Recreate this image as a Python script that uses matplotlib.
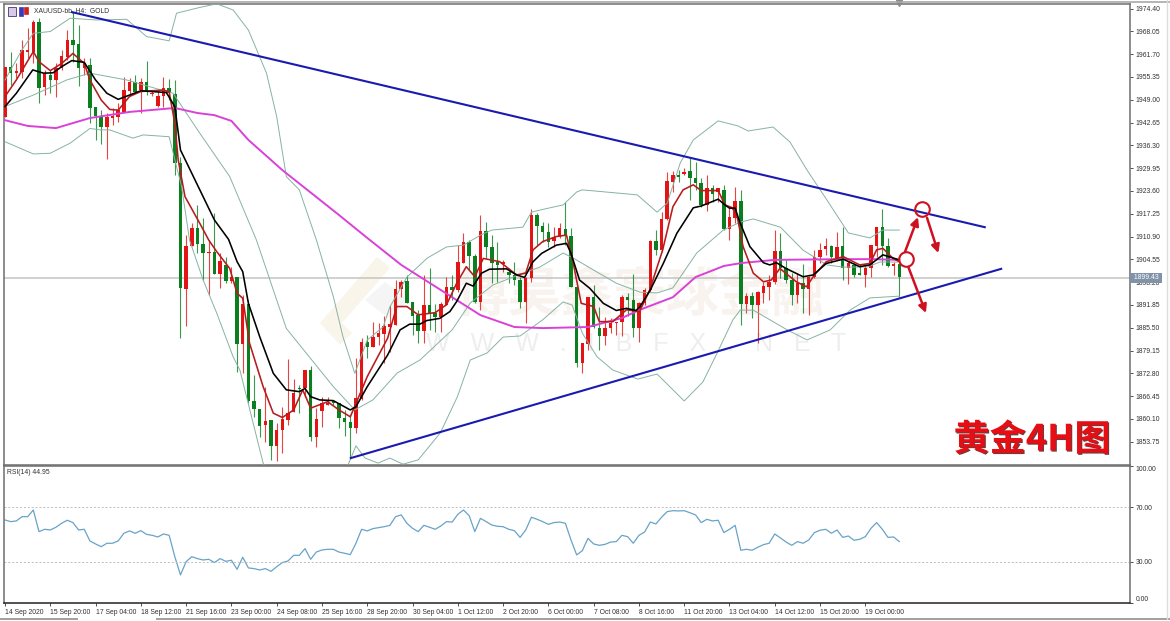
import matplotlib
matplotlib.use('Agg')
import matplotlib.pyplot as plt
import matplotlib.patheffects as pe
from matplotlib.lines import Line2D
from matplotlib.patches import Polygon, Rectangle

plt.rcParams['font.family'] = ['Liberation Sans', 'Noto Sans CJK SC', 'DejaVu Sans']

#candles, one row of values per 4h bar
opens = [1944.3,1958.2,1956.5,1956.8,1962.4,1962.4,1970.7,1952.5,1955.9,1954.5,
         1957.7,1961.0,1965.6,1964.5,1957.7,1958.7,1946.9,1944.5,1941.3,1943.8,
         1944.3,1945.7,1951.5,1954.0,1951.7,1954.0,1950.6,1947.3,1949.9,1952.2,
         1950.6,1931.3,1896.3,1908.3,1913.3,1908.8,1906.3,1906.6,1900.5,1903.0,
         1898.5,1899.6,1881.0,1892.1,1865.1,1862.9,1858.4,1859.8,1852.6,1857.0,
         1859.8,1862.0,1868.7,1868.7,1873.7,1855.1,1862.3,1864.0,1865.1,1864.5,
         1860.4,1859.2,1857.6,1865.6,1881.5,1880.1,1882.9,1883.8,1885.7,1886.2,
         1896.3,1898.5,1892.7,1889.0,1884.6,1891.8,1889.6,1888.5,1891.8,1896.8,
         1896.0,1903.5,1909.4,1905.5,1892.7,1912.4,1908.0,1903.8,1903.3,1901.0,
         1900.2,1898.8,1892.7,1899.4,1916.9,1913.8,1912.2,1909.7,1910.8,1913.0,
         1911.0,1896.8,1875.7,1881.0,1894.0,1885.4,1883.2,1885.4,1886.8,1887.1,
         1894.0,1893.2,1885.4,1892.4,1896.0,1909.7,1907.1,1915.8,1926.1,1928.0,
         1928.3,1929.2,1927.2,1925.8,1919.7,1924.4,1923.3,1923.9,1913.0,1916.1,
         1920.8,1892.1,1894.3,1891.8,1895.2,1896.8,1898.2,1906.9,1902.1,1898.8,
         1894.6,1897.9,1896.3,1899.6,1905.2,1907.4,1908.3,1904.9,1908.3,1902.1,
         1903.0,1900.8,1900.2,1902.1,1908.3,1913.5,1908.3,1902.7,1903.2]
highs = [1958.2,1962.4,1959.1,1965.6,1968.9,1971.2,1971.7,1957.3,1957.3,1959.1,
         1962.9,1968.4,1973.5,1969.8,1960.5,1960.5,1946.9,1946.1,1945.2,1946.6,
         1948.0,1955.4,1955.0,1955.9,1955.0,1959.8,1951.7,1951.7,1955.4,1954.7,
         1954.5,1933.1,1911.3,1914.7,1919.7,1916.1,1909.9,1917.4,1906.3,1905.2,
         1902.4,1899.6,1894.6,1893.2,1872.3,1862.9,1869.0,1859.8,1858.9,1863.4,
         1876.8,1871.2,1869.5,1873.7,1874.8,1863.1,1866.2,1866.2,1865.5,1864.5,
         1862.6,1861.2,1877.1,1882.6,1883.5,1887.1,1886.8,1888.8,1891.8,1898.8,
         1898.8,1900.2,1892.7,1890.4,1900.2,1902.1,1892.0,1892.7,1899.6,1900.2,
         1908.5,1911.9,1909.9,1906.0,1916.9,1915.0,1911.3,1909.4,1904.4,1902.1,
         1903.8,1899.6,1899.6,1918.6,1917.5,1915.0,1914.7,1913.5,1914.7,1920.5,
         1913.3,1896.8,1881.2,1894.0,1897.4,1891.3,1888.5,1888.2,1887.1,1894.6,
         1895.2,1900.5,1892.7,1896.6,1909.9,1912.7,1917.7,1928.9,1929.2,1929.4,
         1930.0,1932.8,1931.7,1927.2,1928.0,1925.2,1924.4,1925.2,1919.1,1924.7,
         1923.9,1895.2,1895.4,1895.7,1898.2,1900.2,1912.7,1911.9,1904.4,1900.7,
         1900.7,1903.2,1899.9,1907.1,1909.1,1910.5,1908.5,1912.2,1913.5,1904.1,
         1903.5,1903.2,1903.0,1908.5,1913.5,1918.6,1910.5,1903.8,1903.5]
lows = [1944.3,1953.1,1955.0,1955.0,1960.5,1959.1,1948.0,1950.3,1951.0,1949.7,
        1957.3,1960.1,1959.6,1952.7,1955.9,1942.4,1937.8,1936.7,1932.4,1942.0,
        1942.9,1945.7,1949.9,1950.8,1945.2,1950.3,1950.0,1947.1,1947.1,1948.9,
        1928.0,1882.6,1886.0,1908.3,1906.3,1898.8,1894.6,1900.5,1896.6,1897.9,
        1897.9,1873.2,1872.9,1864.5,1860.6,1855.1,1853.7,1848.7,1848.4,1850.6,
        1858.4,1862.0,1861.8,1866.2,1853.9,1852.3,1857.8,1864.0,1864.0,1857.6,
        1855.3,1849.0,1856.2,1865.4,1877.1,1880.1,1880.7,1875.7,1878.8,1886.2,
        1894.0,1892.4,1883.5,1881.2,1881.2,1884.9,1884.3,1884.3,1891.8,1893.2,
        1895.4,1903.5,1901.6,1892.4,1890.4,1904.9,1897.9,1898.2,1901.0,1897.9,
        1897.4,1891.0,1886.8,1898.2,1908.5,1909.4,1908.0,1908.0,1910.5,1908.5,
        1896.8,1874.6,1872.9,1879.3,1885.4,1879.3,1880.7,1884.0,1883.5,1883.2,
        1888.8,1882.9,1881.5,1891.8,1895.4,1905.8,1906.6,1915.5,1923.3,1926.1,
        1928.0,1921.1,1923.9,1919.1,1918.0,1920.5,1920.5,1912.7,1909.9,1914.7,
        1886.3,1889.6,1888.2,1881.2,1892.4,1893.2,1897.7,1899.4,1897.9,1891.8,
        1892.4,1889.6,1889.0,1899.4,1903.5,1905.8,1903.5,1904.4,1898.8,1897.7,
        1899.6,1900.2,1896.8,1899.6,1905.2,1903.0,1902.4,1900.2,1894.0]
closes = [1958.2,1956.5,1957.0,1962.9,1962.9,1970.7,1952.2,1956.2,1954.5,1957.7,
          1961.2,1965.6,1964.2,1957.7,1959.1,1946.6,1944.5,1941.3,1944.1,1944.5,
          1946.1,1951.7,1954.0,1951.2,1954.0,1951.5,1951.0,1950.0,1952.2,1950.8,
          1931.3,1896.6,1908.3,1913.3,1908.8,1906.3,1906.6,1900.5,1904.1,1898.5,
          1899.6,1881.0,1892.1,1865.1,1862.9,1858.1,1859.5,1852.6,1857.0,1860.1,
          1861.8,1867.3,1868.4,1873.7,1855.1,1860.1,1864.5,1864.5,1864.5,1860.4,
          1859.2,1857.6,1865.9,1881.5,1880.1,1882.9,1884.0,1886.0,1886.5,1896.3,
          1898.2,1892.4,1888.8,1884.6,1891.8,1889.6,1888.5,1892.1,1896.8,1896.0,
          1903.8,1909.4,1905.5,1892.7,1912.4,1908.0,1903.5,1903.0,1903.8,1900.2,
          1898.8,1892.7,1899.4,1916.9,1913.8,1912.2,1909.4,1910.8,1913.3,1911.0,
          1896.8,1875.7,1881.2,1894.0,1885.7,1883.2,1885.4,1886.8,1887.1,1894.0,
          1893.2,1885.4,1892.4,1896.0,1909.7,1907.1,1915.8,1926.4,1928.0,1927.5,
          1928.9,1927.2,1925.8,1919.7,1924.4,1922.7,1924.4,1913.0,1916.3,1920.8,
          1892.1,1894.3,1891.8,1895.4,1897.1,1898.2,1906.9,1902.1,1898.8,1894.6,
          1897.9,1896.3,1899.6,1905.2,1907.1,1908.3,1905.2,1908.0,1902.1,1903.5,
          1900.2,1900.2,1902.1,1908.5,1913.5,1908.3,1902.7,1903.2,1899.6]

#moving averages and bollinger bands, read at the bends only
black_idx = [0,2,4.9,6.8,8.5,10,11.8,14,16,18,20,22,24,28.5,30,31,33,37,39.5,41,42,43,45,47.4,49.7,52,53,54,55.6,58,61,62,64,67.6,
             69.8,71.5,73.3,74.5,76.8,78.6,79.8,81.5,82.7,84.2,85.6,88.6,90.4,91.8,93.3,94.8,97.4,99.2,100,101.5,103.3,105.7,108,109.8,111.5,
             112.2,114,116.3,118.7,121.6,123,126,127.2,128,129,129.8,131.6,134,135.1,136.3,138,141,142.8,145.1,148.1,151,152.8,155.1,158]
black_ma = [1947.1,1950.8,1957.3,1956.4,1956.5,1958.2,1959.9,1959.4,1954.5,1950.8,1949.1,1950.3,1951.5,1951.0,1947.1,1935.0,1928.5,1915.5,1910.1,1903.9,1901.1,1892.3,1883.0,1872.8,1868.2,1867.7,1868.6,1866.3,1865.4,1865.2,1862.6,1863.5,1869.1,1877.9,
            1884.9,1886.5,1886.5,1887.5,1888.1,1890.0,1892.8,1897.9,1897.1,1900.7,1901.8,1901.9,1900.2,1899.5,1903.9,1906.2,1908.5,1909.0,1906.2,1898.8,1896.5,1892.3,1890.3,1890.9,1890.3,
            1891.4,1896.0,1903.4,1911.8,1918.9,1919.4,1921.3,1919.7,1918.8,1918.8,1915.0,1908.1,1903.6,1903.0,1903.6,1902.0,1899.7,1900.2,1903.4,1904.6,1902.5,1903.0,1905.8,1904.4]
red_idx = [0,2,5,6,8,10,12,14,15,17,18.5,20,22,24,28,29,30,30.6,31.8,34.4,36,37.4,39.7,41,42,43.2,45.6,47.4,49,51,52.6,54,57,59,61,62,64,67.6,
           69.2,71,73,76,78,79.8,81.5,83,84.5,87.4,90.4,92,93.3,95,97.4,99.2,100.4,101.8,104,105,107.4,109.8,112.1,113.9,116.2,
           118,119.8,121.6,123,126,127.2,128.4,129.3,130.4,132.2,134,135.4,136.9,139.8,141.6,143,145.1,148.1,151,152.8,154,155.1,156.9,158]
red_ma = [1949.9,1954.5,1962.4,1959.6,1957.1,1959.1,1961.9,1959.1,1954.5,1948.9,1946.3,1946.1,1949.9,1951.3,1951.7,1951.2,1942.4,1932.2,1922.0,1914.6,1909.9,1906.7,1902.0,1895.1,1893.7,1881.2,1869.1,1861.7,1860.5,1862.6,1868.2,1863.1,1864.9,1862.6,1860.7,1864.4,1871.9,1882.6,
          1891.4,1891.4,1889.1,1889.7,1891.9,1897.9,1902.5,1899.7,1904.8,1903.9,1900.2,1900.7,1907.2,1909.5,1910.9,1911.3,1903.4,1892.3,1891.4,1887.2,1887.2,1890.5,1890.0,1896.0,1907.2,
          1919.2,1923.9,1925.3,1923.7,1923.7,1919.7,1919.0,1916.9,1908.1,1900.7,1898.3,1898.8,1902.0,1898.3,1896.9,1900.2,1903.9,1905.3,1903.0,1903.4,1907.2,1907.6,1904.8,1903.9]
magenta_idx = [0,4,9,15,22,30,34,37,40,43,49,59,64,70,77,84,90,95,103,109,112,118,122,127,130,136,148,153,158]
magenta_ma = [1943.3,1941.7,1941.1,1943.9,1945.6,1946.7,1945.3,1944.7,1943.1,1937.8,1929.4,1916.9,1910.5,1903.0,1896.0,1889.0,1885.7,1885.4,1885.7,1888.2,1890.4,1894.0,1899.6,1902.7,1903.5,1904.4,1904.6,1904.6,1904.4]
upper_idx = [0,3,5,8,11.5,16.2,21.5,25,29,30.3,34.4,37.4,40.3,43,46.2,48,49.7,52,55,58,59.7,61.8,64,66.8,68,71,74.6,78,81,84,86,91.5,93,96,98.6,101,102,
             111.7,115.2,117,119.3,121.6,126,129.5,131.3,135.7,138.7,141.7,145.2,149,152.8,155.1,158]
upper_band = [1954.5,1962.9,1967.5,1968.0,1971.7,1971.2,1971.4,1966.6,1965.4,1973.1,1974.7,1975.7,1974.0,1968.4,1956.4,1944.3,1927.6,1923.9,1910.0,1894.2,1883.0,1872.8,1882.1,1885.7,1891.3,1899.6,1904.9,1908.0,1908.5,1911.3,1912.7,1913.5,1917.7,1918.8,1919.7,1923.3,1923.9,
              1922.5,1917.7,1920.2,1931.4,1937.8,1943.1,1941.7,1940.3,1941.4,1937.2,1929.4,1921.1,1911.9,1910.5,1912.7,1912.7]
mid_idx = [0,5,10.9,15,21.5,25.6,29.7,34.4,39.7,44.4,49.7,58,61.8,65,69.3,73.3,79,82.2,86.2,91.5,94.5,98.6,100.4,104.6,108,112.2,
           115.2,118,122.2,126.9,129.9,132.2,137,141,145.2,148,152.3,154.6,157.8]
mid_band = [1947.1,1950.3,1954.5,1956.4,1954.5,1952.6,1950.8,1939.7,1927.6,1910.0,1885.3,1869.1,1862.6,1865.4,1872.9,1876.5,1884.9,1892.4,1897.4,1900.7,1902.4,1906.3,1904.9,1901.0,1897.9,1895.4,
            1895.2,1896.6,1906.3,1912.7,1914.9,1915.8,1913.5,1907.1,1903.0,1902.4,1902.4,1903.8,1903.8]
lower_idx = [0,5,8,11.5,15,16.8,18.5,22.6,24.4,29,30.3,31.2,32.6,35,37.4,40.3,41.5,45.6,50,56,60,62,63.6,65.9,68,70.3,73,76.9,79.9,82.2,85.2,88,91,95,98.6,100.2,102,104.6,107.4,
             111.8,115.2,120,123.3,125.8,128.6,129.9,132.2,138.2,141.7,145.8,149.3,152.8,158]
lower_band = [1937.3,1933.9,1934.1,1936.9,1941.0,1940.6,1940.6,1938.3,1939.2,1938.7,1930.4,1924.8,1909.9,1898.8,1889.6,1877.4,1873.7,1847.8,1835.0,1832.0,1845.0,1852.6,1849.2,1847.8,1849.2,1847.5,1848.7,1856.2,1866.2,1876.5,1878.5,1882.9,1883.2,1887.7,1892.7,1891.8,1884.0,1877.4,1873.7,
              1871.2,1872.6,1865.1,1870.4,1878.4,1887.7,1890.4,1890.4,1884.9,1882.1,1884.9,1890.4,1893.8,1894.3]

rsi = [60.6,59.4,59.9,63.0,63.0,67.9,52.1,53.8,53.3,55.3,58.2,60.4,58.7,53.3,53.8,45.3,43.1,41.1,43.6,43.6,
       45.3,50.9,52.6,50.9,52.8,50.1,49.4,48.2,50.4,49.4,33.8,20.5,30.2,33.8,32.4,31.4,31.9,29.5,32.4,30.4,
       31.2,24.6,33.4,25.6,25.1,24.1,25.1,23.1,26.5,29.5,30.7,34.8,34.8,39.7,31.9,37.2,38.7,39.2,39.2,37.2,
       36.3,35.3,43.6,53.8,52.6,54.3,55.0,55.7,56.7,63.0,64.3,58.2,54.5,52.1,56.7,55.3,53.8,56.2,59.4,59.1,
       64.7,67.9,63.8,52.1,61.8,59.4,56.9,56.0,55.7,53.8,52.8,47.9,53.3,62.6,61.1,59.4,57.4,58.7,59.1,58.2,
       46.0,35.1,38.2,47.2,43.1,42.1,42.8,44.5,44.8,49.4,48.4,43.6,49.4,51.8,59.1,57.7,62.6,66.7,67.4,67.2,
       67.4,65.9,64.3,58.7,61.1,59.9,60.4,51.4,53.8,56.7,38.5,39.2,38.5,40.7,42.6,43.6,50.4,47.5,44.5,42.1,
       44.8,43.6,46.0,51.4,53.1,53.8,50.9,53.3,47.9,48.9,45.8,46.5,48.4,54.5,58.7,53.8,47.9,48.2,44.8]

price_ticks = [1974.40,1968.05,1961.70,1955.35,1949.00,1942.65,1936.30,1929.95,1923.60,1917.25,
               1910.90,1904.55,1898.20,1891.85,1885.50,1879.15,1872.80,1866.45,1860.10,1853.75]
rsi_ticks = [100,70,30,0]
date_labels = ['14 Sep 2020','15 Sep 20:00','17 Sep 04:00','18 Sep 12:00','21 Sep 16:00','23 Sep 00:00','24 Sep 08:00',
               '25 Sep 16:00','28 Sep 20:00','30 Sep 04:00','1 Oct 12:00','2 Oct 20:00','6 Oct 00:00','7 Oct 08:00',
               '8 Oct 16:00','11 Oct 20:00','13 Oct 04:00','14 Oct 12:00','15 Oct 20:00','19 Oct 00:00']
last_price = 1899.43

W, H = 1170, 621
RED = '#e21414'
GREEN = '#0b7f1f'
TXT = '#303030'

fig = plt.figure(figsize=(W/100, H/100), dpi=100, facecolor='white')
ax = fig.add_axes([4/W, 1-465/H, 1126/W, 461/H])
ax2 = fig.add_axes([4/W, 1-603/H, 1126/W, 137/H])

#pale watermark behind everything
fig.add_artist(Polygon([(320/W,1-323/H),(377/W,1-257/H),(390/W,1-268/H),(342/W,1-323/H),(352/W,1-333/H),(340/W,1-345/H)],
                       facecolor='#f9f5ea', edgecolor='none', zorder=-1))
fig.add_artist(Polygon([(365/W,1-300/H),(385/W,1-282/H),(410/W,1-300/H),(388/W,1-318/H)],
                       facecolor='#f5f5f5', edgecolor='none', zorder=-1))
ax.patch.set_alpha(0)
ax2.patch.set_alpha(0)
fig.text(640/W, 1-296/H, '博昊鑫寰球金融', fontsize=38, color='#f8f3ee', ha='center', va='center', weight='bold',
         family=['Noto Sans CJK SC','DejaVu Sans'], zorder=-1)
fig.text(636/W, 1-344/H, 'W   W   W   .   I   B   F   X   .   N   E   T', fontsize=18, color='#eeeeee', ha='center', va='center', zorder=-1)

ax.axhline(last_price, color='#c4c4c4', lw=1.1, zorder=1)

#candles
x = range(len(opens))
bar_colors = [RED if c >= o else GREEN for o, c in zip(opens, closes)]
ax.vlines(x, lows, highs, colors=bar_colors, lw=0.8, alpha=0.8, zorder=2)
ax.bar(x, [abs(c-o) for o, c in zip(opens, closes)], bottom=[min(o, c) for o, c in zip(opens, closes)],
       width=0.62, color=bar_colors, linewidth=0, zorder=3)

ax.plot(upper_idx, upper_band, color='#86b3a3', lw=0.7, zorder=4)
ax.plot(mid_idx, mid_band, color='#86b3a3', lw=0.7, zorder=4)
ax.plot(lower_idx, lower_band, color='#86b3a3', lw=0.7, zorder=4)
ax.plot(magenta_idx, magenta_ma, color='#d942d6', lw=1.4, zorder=5)
ax.plot(red_idx, red_ma, color='#b71c1c', lw=1.15, zorder=6)
ax.plot(black_idx, black_ma, color='black', lw=1.15, zorder=7)

#triangle trend lines
ax.plot([11.84,173.1], [1973.4,1913.5], color='#1a1ab0', lw=1.5, zorder=8)
ax.plot([61.1,176], [1849.2,1901.9], color='#1a1ab0', lw=1.5, zorder=8)

#hand drawn arrows and circles
for start, end in [((159,1906.6),(161.3,1916.3)), ((162.9,1916.1),(164.9,1906.3)), ((159.6,1902.4),(162.7,1889.6))]:
    ax.annotate('', xy=end, xytext=start, zorder=9,
                arrowprops=dict(arrowstyle='-|>', color='#cf1020', lw=1.8, mutation_scale=12, shrinkA=0, shrinkB=0))
ax.plot([162,159.2], [1918.6,1904.6], ls='none', marker='o', ms=10.5, mfc='none', mec='#cf1020', mew=1.5, zorder=9)

ax.set_xlim(-0.18, 198.76)
ax.set_ylim(1847.27, 1975.66)
ax.yaxis.tick_right()
ax.set_yticks(price_ticks)
ax.set_yticklabels(['%.2f' % p for p in price_ticks])
ax.tick_params(axis='y', labelsize=4.9, length=2.5, width=0.6, pad=1.5, colors=TXT)
ax.set_xticks([])
for s in ax.spines.values():
    s.set_color('#6e6e6e')
    s.set_linewidth(1.1)

#current price tag on top of the 1898.20 label
ax.text(1.0015, last_price, ' %.2f ' % last_price, transform=ax.get_yaxis_transform(), fontsize=4.9, color='white',
        va='center', ha='left', bbox=dict(boxstyle='square,pad=0.25', fc='#8193a8', ec='none'), zorder=20, clip_on=False)

#shift marker at the top of the window
ax.plot([158], [1975.9], marker='v', ms=4, color='#8a8a8a', clip_on=False, zorder=20)

#header icons and titles
fig.add_artist(Rectangle((8/W,1-16/H), 8/W, 9/H, fc='#d9c9e8', ec='#5b4a8c', lw=0.7))
fig.add_artist(Rectangle((19/W,1-16/H), 4/W, 9/H, fc='#3a3ab8', ec='#3a3ab8', lw=0.5))
fig.add_artist(Rectangle((24/W,1-14/H), 4/W, 7/H, fc='#d02020', ec='#d02020', lw=0.5))
fig.text(34/W, 1-11/H, 'XAUUSD-bb, H4:  GOLD', fontsize=4.9, color=TXT, va='center')
fig.text(7/W, 1-472.5/H, 'RSI(14) 44.95', fontsize=4.9, color=TXT, va='center')

fig.text(1032/W, 1-440/H, '黄金4H图', fontsize=26, color='#e60d14', weight='bold', ha='center', va='center',
         family=['Noto Sans CJK SC','DejaVu Sans'],
         path_effects=[pe.withSimplePatchShadow(offset=(0.8,-0.8), shadow_rgbFace='#4a0a0a', alpha=0.8)])

#rsi panel
ax2.plot(range(len(rsi)), rsi, color='#68a3c8', lw=0.9)
for level in [70, 30]:
    ax2.axhline(level, color='#bdbdbd', lw=0.7, ls=(0, (2, 2)))
ax2.set_xlim(-0.18, 198.76)
ax2.set_ylim(0, 100)
ax2.yaxis.tick_right()
ax2.set_yticks(rsi_ticks)
ax2.set_yticklabels(['%.2f' % r for r in rsi_ticks])
ax2.tick_params(axis='y', labelsize=4.9, length=2.5, width=0.6, pad=1.5, colors=TXT)
ax2.get_yticklabels()[0].set_va('top')
ax2.get_yticklabels()[3].set_va('bottom')
ax2.set_xticks(range(0, 8*len(date_labels), 8))
ax2.set_xticklabels(date_labels, ha='left')
ax2.tick_params(axis='x', labelsize=4.9, length=2.5, width=0.6, pad=1.5, colors=TXT)
for s in ax2.spines.values():
    s.set_color('#6e6e6e')
    s.set_linewidth(1.1)
ax2.spines['bottom'].set_color('#222222')

#window chrome
fig.add_artist(Line2D([0,1], [1-2/H,1-2/H], color='#a8a8a8', lw=1.2))
fig.add_artist(Line2D([0,77/W], [1-619/H,1-619/H], color='#a0a0a0', lw=1.4))
fig.add_artist(Line2D([157/W,1], [1-619/H,1-619/H], color='#a0a0a0', lw=1.4))
fig.add_artist(Line2D([1167/W,1167/W], [1-619/H,1], color='#dddddd', lw=1))

fig.savefig('out.png', dpi=100)
